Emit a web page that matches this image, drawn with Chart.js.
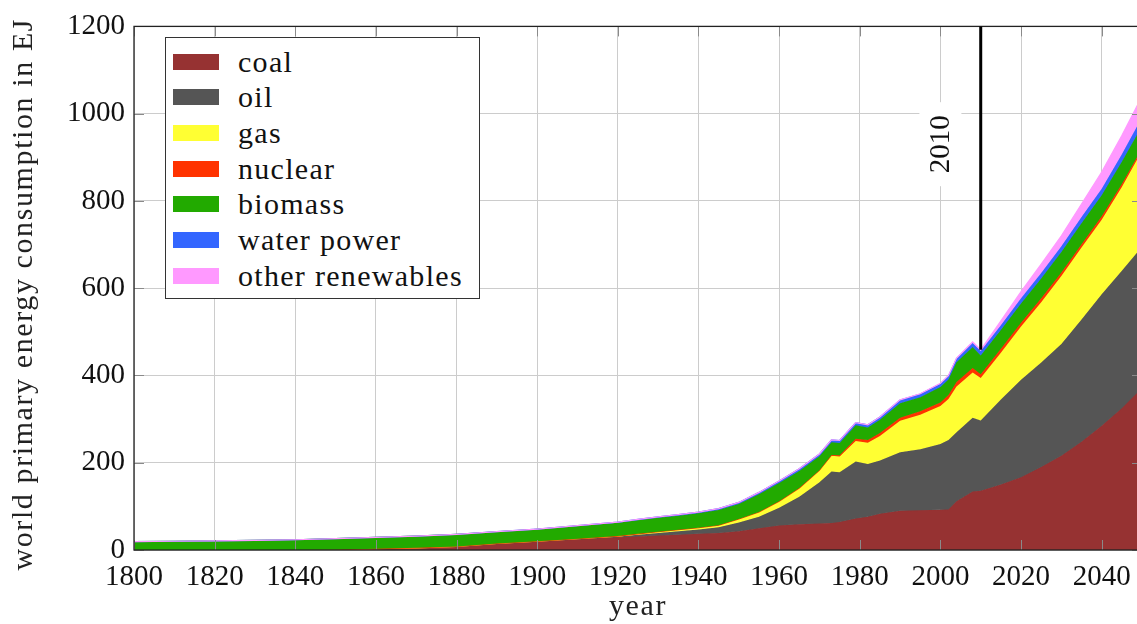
<!DOCTYPE html>
<html>
<head>
<meta charset="utf-8">
<title>World primary energy consumption</title>
<script src="https://cdn.jsdelivr.net/npm/chart.js@4.4.1/dist/chart.umd.min.js"></script>
<style>
  html, body { margin: 0; padding: 0; background: #fff; overflow: hidden; }
  #wrap { position: relative; width: 1160px; height: 624px; }
  #legend {
    position: absolute; left: 165px; top: 37px; width: 313px; height: 260px;
    border: 1.3px solid #333; background: #fff;
    font-family: "Liberation Serif", serif; font-size: 30px; color: #111;
  }
  .row { position: absolute; left: 7px; display: flex; align-items: center; height: 16px; white-space: nowrap; }
  .sw { width: 46px; height: 16px; margin-right: 19px; flex: none; }
  .lbl { letter-spacing: 1.3px; }
</style>
</head>
<body>
<div id="wrap">
  <canvas id="c" width="1160" height="624"></canvas>
  <div id="legend"></div>
</div>
<script>
// Years sampled (historical record, then projection to 2050)
const years = [1800,1810,1820,1830,1840,1850,1860,1870,1880,1890,
               1900,1910,1920,
               1925,1930,1935,1940,1945,1950,1955,1960,1965,1970,
               1973,1975,1979,1982,1985,1990,1995,2000,2002,2004,2008,2010,
               2015,2020,2025,2030,2035,2040,2045,2050];

// Primary energy by source, EJ per year
const coal     = [0,0,0,0,0,0.5,3,5,8,15,
                  20,25,29,
                  31,33,35,37,39,43,50,56,59,61,
                  62,64,72,76,83,90,91,92,93,112,134,136,
                  150,167,190,216,248,285,325,371];
const oil      = [0,0,0,0,0,0,0,0,0,0,
                  0.2,0.5,2,
                  4,6,8,10,13,20,26,41,63,94,
                  118,114,131,121,122,134,140,151,159,158,169,161,
                  195,223,240,256,280,301,315,324];
const gas      = [0,0,0,0,0,0,0,0,0,0,
                  0.1,0.3,1,
                  2,3,3.5,4,5,8,11,15,20,27,
                  36,36,47,49,56,72,79,87,94,105,104,97,
                  107,122,138,156,165,171,192,220];
const nuclear  = [0,0,0,0,0,0,0,0,0,0,
                  0,0,0,
                  0,0,0,0,0,0,0,0,0.3,1,
                  2,3,5,6,7,7,8,8,9,10,10,9,
                  9,9,9,8,8,8,7,6];
const biomass  = [19,20,21,22,23.5,25.5,26,27,28,26.7,
                  27.2,29.2,30.5,
                  31.3,32,32,33,34.8,34.5,41,41.5,39,32,
                  29,28.5,31,29,30.5,33.5,32.3,35.5,36,45.5,48.5,43,
                  43,44,45.5,47,48,48,51,51];
const water    = [0,0,0,0,0,0,0,0,0,0.3,
                  0.5,1,1.5,
                  1.7,2,2.5,3,3.2,3.5,4,4.5,4.8,5,
                  5.2,5.5,6,6,6.5,7,7,7.5,8,8,9,10,
                  11,12,12.5,13,14,15,17,20];
const otherRen = [0,0,0,0,0,0,0,0,0,0,
                  0,0,0,
                  0,0,0,0,0,0,0,0,0,0,
                  0,0,0,0,0,0.5,0.7,1,1.2,1.5,2.5,3,
                  10,15,20,24,30,38,43,48];

const seriesNames  = ['coal','oil','gas','nuclear','biomass','water power','other renewables'];
const seriesValues = [coal, oil, gas, nuclear, biomass, water, otherRen];
const seriesColors = ['#963232','#555555','#ffff33','#ff3300','#22aa00','#3366ff','#ff99ff'];

const xTicks = { min: 1800, max: 2050, step: 20, last: 2040 };
const yTicks = { min: 0, max: 1200, step: 200 };
const xTitle = 'year';
const yTitle = 'world primary energy consumption in EJ';
const markYear = 2010;

// Running totals: each layer sits on top of the ones below it
let running = years.map(() => 0);
const datasets = seriesValues.map((vals, i) => {
  running = running.map((v, k) => v + vals[k]);
  return {
    label: seriesNames[i],
    data: years.map((yr, k) => ({ x: yr, y: running[k] })),
    backgroundColor: seriesColors[i],
    borderColor: seriesColors[i],
    borderWidth: 1.2,
    pointRadius: 0,
    tension: 0,
    fill: i === 0 ? 'origin' : '-1',
    order: seriesValues.length - i   // upper layers are painted last
  };
});
const totals = running;

// Legend box
const legend = document.getElementById('legend');
seriesNames.forEach((name, i) => {
  const row = document.createElement('div');
  row.className = 'row';
  row.style.top = (15.5 + i * 35.7) + 'px';
  const sw = document.createElement('div');
  sw.className = 'sw';
  sw.style.background = seriesColors[i];
  const lbl = document.createElement('span');
  lbl.className = 'lbl';
  lbl.textContent = name;
  row.appendChild(sw);
  row.appendChild(lbl);
  legend.appendChild(row);
});

// Frame, inner tick marks, axis titles and the marker line for the reference year
const overlay = {
  id: 'overlay',
  afterDatasetsDraw(chart) {
    const { ctx, chartArea: a, scales: { x, y } } = chart;
    const seg = (x1, y1, x2, y2) => { ctx.beginPath(); ctx.moveTo(x1, y1); ctx.lineTo(x2, y2); ctx.stroke(); };
    ctx.save();
    ctx.strokeStyle = '#8a8a8a';
    ctx.lineWidth = 1;
    x.ticks.forEach(t => {
      const px = Math.round(x.getPixelForValue(t.value)) + 0.5;
      seg(px, a.bottom, px, a.bottom - 10);
      seg(px, a.top, px, a.top + 10);
    });
    y.ticks.forEach(t => {
      const py = Math.round(y.getPixelForValue(t.value)) + 0.5;
      seg(a.left, py, a.left + 10, py);
      seg(a.right, py, a.right - 10, py);
    });
    ctx.strokeStyle = '#222';
    ctx.lineWidth = 1.3;
    ctx.strokeRect(a.left, a.top, a.right - a.left, a.bottom - a.top);

    const k = years.indexOf(markYear);
    const mx = x.getPixelForValue(markYear);
    ctx.strokeStyle = '#000';
    ctx.lineWidth = 3;
    seg(mx, a.top, mx, y.getPixelForValue(totals[k]));
    ctx.restore();

    ctx.save();
    ctx.translate(x.getPixelForValue(markYear - 10), y.getPixelForValue(930));
    ctx.rotate(-Math.PI / 2);
    ctx.fillStyle = '#fff';
    ctx.fillRect(-42, -21, 84, 42);
    ctx.fillStyle = '#111';
    ctx.font = '29px "Liberation Serif"';
    ctx.textAlign = 'center';
    ctx.textBaseline = 'middle';
    ctx.fillText(String(markYear), 0, 1);
    ctx.restore();

    // axis titles
    ctx.save();
    ctx.fillStyle = '#222';
    ctx.font = '30px "Liberation Serif"';
    ctx.letterSpacing = '1.6px';
    ctx.textAlign = 'center';
    ctx.textBaseline = 'middle';
    ctx.fillText(xTitle, (x.left + x.right) / 2, 607);
    ctx.translate(24, (a.top + a.bottom) / 2 + 6);
    ctx.rotate(-Math.PI / 2);
    ctx.fillText(yTitle, 0, 0);
    ctx.restore();
  }
};

Chart.defaults.font.family = '"Liberation Serif", serif';
Chart.defaults.color = '#111';

new Chart(document.getElementById('c'), {
  type: 'line',
  data: { datasets },
  plugins: [overlay],
  options: {
    responsive: false,
    animation: false,
    layout: { padding: { top: 21, right: 18, left: 0, bottom: 0 } },
    plugins: { legend: { display: false }, tooltip: { enabled: false } },
    scales: {
      x: {
        type: 'linear',
        min: xTicks.min, max: xTicks.max,
        afterBuildTicks(s) {
          const list = [];
          for (let v = xTicks.min; v <= xTicks.last; v += xTicks.step) list.push({ value: v });
          s.ticks = list;
        },
        afterFit(s) { s.height = 74; },
        ticks: { autoSkip: false, maxRotation: 0, padding: 10, font: { size: 29 }, callback: v => String(v) },
        grid: { color: '#cccccc', drawTicks: false },
        border: { display: false }
      },
      y: {
        min: yTicks.min, max: yTicks.max,
        afterFit(s) { s.width = 134; },
        ticks: { stepSize: yTicks.step, padding: 9, font: { size: 29 }, callback: v => String(v) },
        grid: { color: '#cccccc', drawTicks: false },
        border: { display: false }
      }
    }
  }
});
</script>
</body>
</html>
